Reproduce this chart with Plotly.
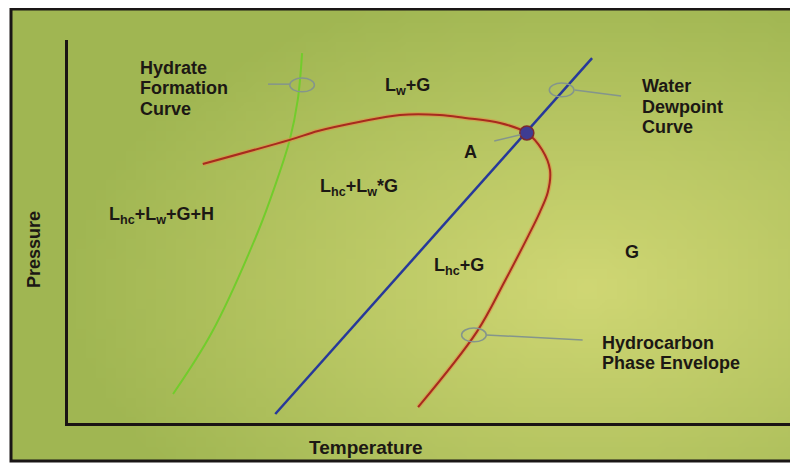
import base64
import math
import struct
import zlib

import plotly.graph_objects as go

# --- curve data (Temperature / Pressure in arbitrary units, 0-100) ---
hydrate_T = [14.9, 20.3, 26.6, 29.0, 31.0, 32.1, 32.7]
hydrate_P = [7.8, 24.0, 50.0, 62.2, 74.0, 84.4, 96.6]

dewpoint_T = [29.0, 72.7]
dewpoint_P = [2.6, 95.3]

envelope_T = [19.0, 31.0, 34.9, 40.7, 46.2, 51.7, 55.2, 60.0, 63.7, 65.8, 66.9, 66.6, 65.5, 63.9, 60.6, 56.8, 48.7]
envelope_P = [67.7, 74.0, 76.3, 78.7, 80.5, 80.5, 79.7, 78.4, 75.8, 71.4, 66.1, 60.4, 55.2, 49.0, 37.0, 24.0, 4.4]

point_A_T = [63.7]
point_A_P = [75.8]

# callout ellipses and their leader lines
callout_T = [32.7, 68.5, 56.4]
callout_P = [88.3, 87.0, 23.2]
leader_T0 = [28.0, 70.3, 58.1, 59.2]
leader_P0 = [88.5, 87.0, 23.2, 73.7]
leader_T1 = [31.0, 76.7, 71.4, 62.8]
leader_P1 = [88.5, 85.4, 21.9, 75.3]

# region / curve labels
label_text = [
    "Hydrate<br>Formation<br>Curve",
    "L<sub>w</sub>+G",
    "Water<br>Dewpoint<br>Curve",
    "A",
    "L<sub>hc</sub>+L<sub>w</sub>*G",
    "L<sub>hc</sub>+L<sub>w</sub>+G+H",
    "G",
    "L<sub>hc</sub>+G",
    "Hydrocarbon<br>Phase Envelope",
]
label_T = [10.1, 43.9, 79.3, 55.9, 34.9, 5.8, 78.2, 50.6, 73.8]
label_P = [87.4, 87.8, 82.6, 70.8, 61.7, 54.4, 44.8, 40.9, 18.5]
label_anchor = ["left", "left", "left", "center", "left", "left", "center", "left", "left"]

W, H = 798, 464
PAGE = 8  # ページ本体の余白
ML, MR, MT, MB = 60, 16, 32, 49
FONT = "Liberation Sans, Arial, sans-serif"
INK = "#1c1814"
X_RANGE = [0.41, 100]
Y_RANGE = [0.26, 100]
LINE_GAP = 20.5 * (Y_RANGE[1] - Y_RANGE[0]) / (H - MT - MB)  # 行間 (データ単位)


def px_x(px):
    """画面上のx座標 -> paper座標"""
    return (px - PAGE - ML) / (W - ML - MR)


def px_y(py):
    """画面上のy座標 -> paper座標"""
    return (H - MB - (py - PAGE)) / (H - MT - MB)


def gradient_png(w, h):
    """背景のグラデーション画像"""
    yellow = (208, 215, 116)
    green = (160, 182, 82)
    rows = []
    for j in range(h):
        row = bytearray(b"\x00")
        for i in range(w):
            dx = (i / (w - 1) - 0.72) / 0.66
            dy = (j / (h - 1) - 0.62) / 0.70
            f = min(1.0, math.hypot(dx, dy))
            row += bytes(round(yellow[k] * (1 - f) + green[k] * f) for k in range(3))
        rows.append(bytes(row))

    def chunk(tag, data):
        return struct.pack(">I", len(data)) + tag + data + struct.pack(">I", zlib.crc32(tag + data) & 0xFFFFFFFF)

    png = (b"\x89PNG\r\n\x1a\n"
           + chunk(b"IHDR", struct.pack(">IIBBBBB", w, h, 8, 2, 0, 0, 0))
           + chunk(b"IDAT", zlib.compress(b"".join(rows)))
           + chunk(b"IEND", b""))
    return "data:image/png;base64," + base64.b64encode(png).decode()


fig = go.Figure()

# hydrate formation curve
fig.add_trace(go.Scatter(x=hydrate_T, y=hydrate_P, mode="lines",
                         line=dict(color="#72cc2c", width=2, shape="spline", smoothing=1.0)))
# hydrocarbon phase envelope (orange halo + red line)
fig.add_trace(go.Scatter(x=envelope_T, y=envelope_P, mode="lines",
                         line=dict(color="rgba(226,140,70,0.55)", width=4.5, shape="spline", smoothing=1.0)))
fig.add_trace(go.Scatter(x=envelope_T, y=envelope_P, mode="lines",
                         line=dict(color="#a82a1e", width=2, shape="spline", smoothing=1.0)))
# water dewpoint line
fig.add_trace(go.Scatter(x=dewpoint_T, y=dewpoint_P, mode="lines",
                         line=dict(color="#27399a", width=2.5)))
# point A
fig.add_trace(go.Scatter(x=point_A_T, y=point_A_P, mode="markers",
                         marker=dict(size=14, color="#3e3c92", line=dict(color="#7a2a30", width=1.5))))

shapes = []
for t, p in zip(callout_T, callout_P):
    shapes.append(dict(type="circle", xref="x", yref="y", x0=t - 1.7, x1=t + 1.7, y0=p - 1.8, y1=p + 1.8,
                       line=dict(color="#84958c", width=1.5)))
for t0, p0, t1, p1 in zip(leader_T0, leader_P0, leader_T1, leader_P1):
    shapes.append(dict(type="line", xref="x", yref="y", x0=t0, y0=p0, x1=t1, y1=p1,
                       line=dict(color="#84958c", width=1.5)))
# outer frame
shapes.append(dict(type="rect", xref="paper", yref="paper", x0=px_x(11), x1=px_x(812), y0=px_y(461), y1=px_y(9),
                   line=dict(color="#1a1616", width=3), layer="above"))

annotations = []
for txt, t, p, anc in zip(label_text, label_T, label_P, label_anchor):
    lines = txt.split("<br>")
    for i, line in enumerate(lines):
        offset = ((len(lines) - 1) / 2 - i) * LINE_GAP
        annotations.append(dict(text=line, x=t, y=p + offset, xref="x", yref="y", xanchor=anc, yanchor="middle",
                                showarrow=False,
                                font=dict(family=FONT, size=18, color=INK, weight="bold")))
annotations.append(dict(text="Temperature", x=px_x(366), y=px_y(447), xref="paper", yref="paper",
                        xanchor="center", yanchor="middle",
                        showarrow=False, font=dict(family=FONT, size=19, color=INK, weight="bold")))
annotations.append(dict(text="Pressure", x=px_x(34), y=px_y(250), xref="paper", yref="paper", textangle=-90,
                        xanchor="center", yanchor="middle",
                        showarrow=False, font=dict(family=FONT, size=18, color=INK, weight="bold")))

axis_style = dict(showgrid=False, zeroline=False, showticklabels=False, ticks="",
                  showline=True, linecolor="#1a1414", linewidth=3)

fig.update_layout(
    width=W, height=H,
    margin=dict(l=ML, r=MR, t=MT, b=MB),
    paper_bgcolor="white",
    plot_bgcolor="rgba(0,0,0,0)",
    showlegend=False,
    xaxis=dict(range=X_RANGE, **axis_style),
    yaxis=dict(range=Y_RANGE, **axis_style),
    shapes=shapes,
    annotations=annotations,
    images=[dict(source=gradient_png(80, 46), xref="paper", yref="paper",
                 x=px_x(11), y=px_y(8), sizex=px_x(812) - px_x(11), sizey=px_y(8) - px_y(461),
                 xanchor="left", yanchor="top", sizing="stretch", layer="below")],
)

fig.write_html("out.html")
